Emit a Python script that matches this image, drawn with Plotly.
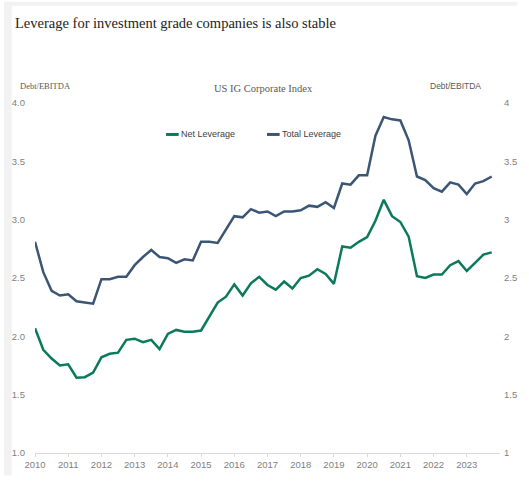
import plotly.graph_objects as go

# ---- data (quarterly, 2010Q1 .. 2023Q4) ----
years = [2010 + q * 0.25 for q in range(56)]
net_leverage = [2.07, 1.885, 1.81, 1.75, 1.76, 1.645, 1.65, 1.69,
                1.82, 1.85, 1.86, 1.97, 1.98, 1.95, 1.97, 1.89,
                2.02, 2.055, 2.04, 2.04, 2.05, 2.17, 2.29, 2.34,
                2.445, 2.35, 2.455, 2.51, 2.44, 2.40, 2.47, 2.41,
                2.50, 2.52, 2.575, 2.535, 2.45, 2.77, 2.76, 2.81,
                2.85, 2.99, 3.17, 3.03, 2.98, 2.855, 2.515, 2.50,
                2.53, 2.53, 2.61, 2.645, 2.56, 2.63, 2.70, 2.72]
total_leverage = [2.81, 2.55, 2.39, 2.35, 2.36, 2.30, 2.29, 2.28,
                  2.49, 2.49, 2.51, 2.51, 2.61, 2.68, 2.74, 2.68,
                  2.67, 2.63, 2.66, 2.65, 2.81, 2.81, 2.80, 2.92,
                  3.03, 3.02, 3.09, 3.06, 3.07, 3.03, 3.07, 3.07,
                  3.08, 3.12, 3.11, 3.15, 3.10, 3.31, 3.30, 3.38,
                  3.38, 3.72, 3.88, 3.86, 3.85, 3.68, 3.37, 3.34,
                  3.27, 3.24, 3.32, 3.30, 3.22, 3.31, 3.33, 3.37]
x_ticks = list(range(2010, 2024))
left_ticks = [1.0, 1.5, 2.0, 2.5, 3.0, 3.5, 4.0]
left_tick_text = ["1.0", "1.5", "2.0", "2.5", "3.0", "3.5", "4.0"]
right_tick_text = ["1", "1.5", "2", "2.5", "3", "3.5", "4"]

GREEN = "#0b7a5b"
BLUE = "#3b5675"
TICK = "#808080"
SANS = "Liberation Sans, Arial, sans-serif"
SERIF = "Liberation Serif, Times New Roman, serif"

W, H = 529, 482
ML, MR, MT, MB = 32, 18, 103, 23
PW, PH = W - ML - MR, H - MT - MB


def px(x):
    return (x - ML) / PW


def py(y):
    return (H - MB - y) / PH


fig = go.Figure()
fig.add_trace(go.Scatter(x=years, y=net_leverage, mode="lines", name="Net Leverage",
                         line=dict(color=GREEN, width=2.5), yaxis="y"))
fig.add_trace(go.Scatter(x=years, y=total_leverage, mode="lines", name="Total Leverage",
                         line=dict(color=BLUE, width=2.5), yaxis="y2"))

shapes = [
    # light grey frame strips (left and top)
    dict(type="rect", xref="paper", yref="paper", x0=px(0), x1=px(8), y0=py(H), y1=py(0),
         fillcolor="#f2f2f2", line_width=0, layer="below"),
    dict(type="rect", xref="paper", yref="paper", x0=px(0), x1=px(W), y0=py(4), y1=py(0),
         fillcolor="#f2f2f2", line_width=0, layer="below"),
    # legend symbols
    dict(type="line", xref="paper", yref="paper", x0=px(167), x1=px(180), y0=py(135), y1=py(135),
         line=dict(color=GREEN, width=3)),
    dict(type="line", xref="paper", yref="paper", x0=px(271), x1=px(284), y0=py(135), y1=py(135),
         line=dict(color=BLUE, width=3)),
]

annotations = [
    dict(text="Leverage for investment grade companies is also stable", x=px(9), y=py(22),
         xanchor="left", yanchor="middle", font=dict(family=SERIF, size=14.5, color="#222222")),
    dict(text="Debt/EBITDA", x=px(14), y=py(86), xanchor="left", yanchor="middle",
         font=dict(family=SERIF, size=8.5, color="#595959")),
    dict(text="US IG Corporate Index", x=px(267), y=py(88), xanchor="center", yanchor="middle",
         font=dict(family=SERIF, size=10.5, color="#595959")),
    dict(text="Debt/EBITDA", x=px(465), y=py(86), xanchor="center", yanchor="middle",
         font=dict(family=SANS, size=8.5, color="#595959")),
    dict(text="Net Leverage", x=px(180), y=py(135), xanchor="left", yanchor="middle",
         font=dict(family=SANS, size=9, color="#404040")),
    dict(text="Total Leverage", x=px(284), y=py(135), xanchor="left", yanchor="middle",
         font=dict(family=SANS, size=9, color="#404040")),
]
for a in annotations:
    a.update(xref="paper", yref="paper", showarrow=False)

fig.update_layout(
    width=W, height=H,
    margin=dict(l=ML, r=MR, t=MT, b=MB, pad=0),
    paper_bgcolor="white", plot_bgcolor="white",
    showlegend=False,
    shapes=shapes, annotations=annotations,
    xaxis=dict(range=[2010, 2024], tickvals=x_ticks, ticktext=[str(t) for t in x_ticks],
               showgrid=False, zeroline=False, showline=True, linecolor="#d9d9d9", linewidth=1,
               ticks="outside", ticklen=3, tickcolor="#d9d9d9",
               tickfont=dict(family=SANS, size=9.5, color=TICK)),
    yaxis=dict(range=[1, 4], tickvals=left_ticks, ticktext=left_tick_text,
               showgrid=False, zeroline=False, showline=False, ticks="",
               ticklabelstandoff=9,
               tickfont=dict(family=SANS, size=9.5, color=TICK)),
    yaxis2=dict(range=[1, 4], tickvals=left_ticks, ticktext=right_tick_text, overlaying="y",
                side="right", anchor="x", showgrid=False, zeroline=False, showline=False, ticks="",
                ticklabelstandoff=3,
                tickfont=dict(family=SANS, size=9.5, color=TICK)),
)

fig.write_html("out.html", config={"displayModeBar": False},
               post_script="document.body.style.margin='0';")
